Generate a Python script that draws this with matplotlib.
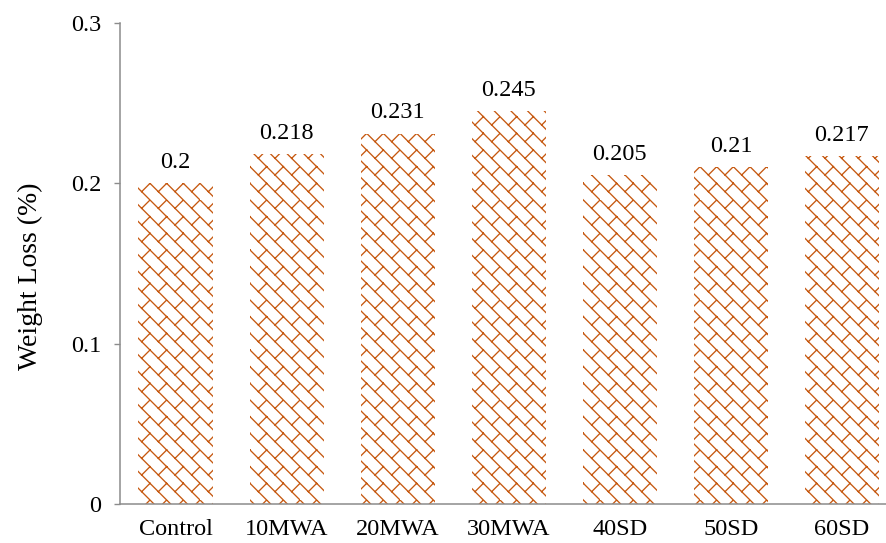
import numpy as np
import matplotlib
matplotlib.use("Agg")
import matplotlib.pyplot as plt
from matplotlib import hatch as mhatch
from matplotlib.path import Path

# ---- data ----
categories = ["Control", "10MWA", "20MWA", "30MWA", "40SD", "50SD", "60SD"]
weight_loss = [0.2, 0.218, 0.231, 0.245, 0.205, 0.21, 0.217]
value_labels = ["0.2", "0.218", "0.231", "0.245", "0.205", "0.21", "0.217"]
y_ticks = [0, 0.1, 0.2, 0.3]
y_tick_labels = ["0", "0.1", "0.2", "0.3"]


class DiagonalBrick(mhatch.HatchPatternBase):
    """Diagonal brick fill: '\\' rows joined by staggered '/' connectors."""

    def __init__(self, hatch, density):
        self.num_tiles = int((hatch.count('\\') + hatch.count('/')) * density)
        self.num_vertices = self.num_tiles ** 2 * 4 if self.num_tiles else 0

    def set_vertices_and_codes(self, vertices, codes):
        n = self.num_tiles
        s = 1.0 / n
        k = 0
        for i in range(n):
            for j in range(n):
                x0, y0 = i * s, j * s
                # main diagonal of the tile
                vertices[k] = (x0, y0 + s)
                vertices[k + 1] = (x0 + s, y0)
                # short connector to the next row
                vertices[k + 2] = (x0 + s / 2, y0 + s / 2)
                vertices[k + 3] = (x0 + s, y0 + s)
                codes[k] = Path.MOVETO
                codes[k + 1] = Path.LINETO
                codes[k + 2] = Path.MOVETO
                codes[k + 3] = Path.LINETO
                k += 4


mhatch._hatch_types = [DiagonalBrick]

plt.rcParams["font.family"] = ["Liberation Serif", "DejaVu Serif"]
plt.rcParams["hatch.linewidth"] = 0.95

W, H = 886, 543
fig = plt.figure(figsize=(W / 100, H / 100), dpi=100)

left, right = 120, 897.5
top, bottom = 23, 504
ax = fig.add_axes([left / W, (H - bottom) / H, (right - left) / W, (bottom - top) / H])

orange = "#C65911"
txt = "#000000"
fs = 17.5
x = np.arange(len(categories))
bars = ax.bar(x, weight_loss, width=0.667, color="white", edgecolor=orange,
              linewidth=0, hatch="\\")

for xi, v, lab in zip(x, weight_loss, value_labels):
    ax.annotate(lab, (xi, v), xytext=(0, 11), textcoords="offset points",
                ha="center", va="baseline", fontsize=fs, color=txt)

ax.set_xlim(-0.5, len(categories) - 0.5)
ax.set_ylim(0, 0.3)
ax.set_yticks(y_ticks)
ax.set_yticklabels(y_tick_labels)
ax.set_xticks(x)
ax.set_xticklabels(categories)

gray = "#8c8c8c"
for side in ("top", "right"):
    ax.spines[side].set_visible(False)
for side in ("left", "bottom"):
    ax.spines[side].set_color(gray)
    ax.spines[side].set_linewidth(1.1)

ax.tick_params(axis="y", direction="out", length=4.5, width=1.0, color=gray,
               pad=9, labelsize=fs, labelcolor=txt)
ax.tick_params(axis="x", length=0, pad=11, labelsize=fs, labelcolor=txt)

fig.text(30 / W, 1 - 276 / H, "Weight Loss (%)", rotation=90,
         ha="center", va="center", fontsize=20, color=txt)

fig.savefig("out.png", dpi=100)
